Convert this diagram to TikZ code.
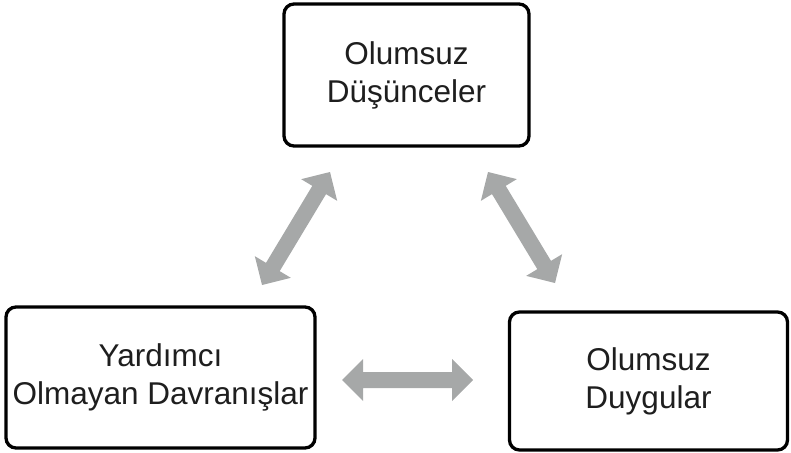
\documentclass[tikz,border=0pt]{standalone}
\usepackage{fontspec}
\setmainfont{Liberation Sans}
\usetikzlibrary{calc}
\definecolor{arrowgray}{RGB}{166,168,168}
\definecolor{textdark}{RGB}{30,30,30}
\tikzset{
  box/.style={draw=black, line width=3.3pt, rounded corners=10pt, fill=white,
    align=center, text=textdark, inner sep=0pt,
    font=\fontsize{31.5pt}{38pt}\selectfont},
}
\newcommand{\dblarrow}[2]{%
  \fill[arrowgray]
    (#1)
    -- ($(#1)!21pt!(#2)!21pt!90:(#2)$)
    -- ($(#1)!21pt!(#2)!8pt!90:(#2)$)
    -- ($(#2)!21pt!(#1)!8pt!-90:(#1)$)
    -- ($(#2)!21pt!(#1)!21pt!-90:(#1)$)
    -- (#2)
    -- ($(#2)!21pt!(#1)!21pt!90:(#1)$)
    -- ($(#2)!21pt!(#1)!8pt!90:(#1)$)
    -- ($(#1)!21pt!(#2)!8pt!-90:(#2)$)
    -- ($(#1)!21pt!(#2)!21pt!-90:(#2)$)
    -- cycle;}
\begin{document}
\begin{tikzpicture}[x=1pt,y=-1pt]
\useasboundingbox (0,0) rectangle (791,452);
\node[box, minimum width=245pt, minimum height=142pt] (thoughts) at (406.5,75) {Olumsuz\\Düşünceler};
\node[box, minimum width=309pt, minimum height=141pt] (behav) at (160.5,377.5) {Yardımcı\\Olmayan Davranışlar};
\node[box, minimum width=278pt, minimum height=138pt] (feel) at (648.5,381) {Olumsuz\\Duygular};
\coordinate (a1) at (330,172);
\coordinate (a2) at (262,285);
\coordinate (b1) at (488,172);
\coordinate (b2) at (555,283);
\coordinate (c1) at (342,380);
\coordinate (c2) at (473,380);
\dblarrow{a1}{a2}
\dblarrow{b1}{b2}
\dblarrow{c1}{c2}
\end{tikzpicture}
\end{document}
